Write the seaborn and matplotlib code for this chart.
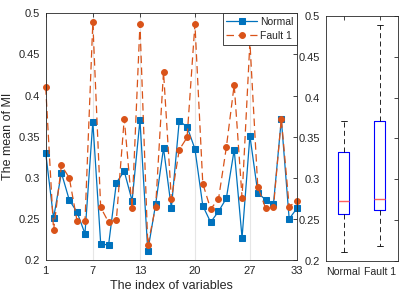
import numpy as np
import pandas as pd
import matplotlib
matplotlib.use("Agg")
import matplotlib.pyplot as plt
import seaborn as sns
from matplotlib.ticker import FuncFormatter

variableIndex = list(range(1, 34))
normalMI = [0.330, 0.251, 0.306, 0.273, 0.258, 0.232, 0.368, 0.220, 0.218, 0.294,
            0.308, 0.272, 0.370, 0.211, 0.268, 0.336, 0.263, 0.369, 0.362, 0.335,
            0.266, 0.246, 0.259, 0.275, 0.334, 0.227, 0.351, 0.282, 0.273, 0.268,
            0.371, 0.250, 0.263]
fault1MI = [0.410, 0.236, 0.315, 0.300, 0.247, 0.247, 0.489, 0.264, 0.246, 0.249,
            0.372, 0.263, 0.487, 0.218, 0.265, 0.429, 0.274, 0.334, 0.349, 0.487,
            0.293, 0.262, 0.274, 0.337, 0.413, 0.276, 0.465, 0.289, 0.263, 0.264,
            0.372, 0.265, 0.272]
seriesNames = ["Normal", "Fault 1"]
xTicks = [1, 7, 13, 20, 27, 33]
yTicks = [0.2, 0.25, 0.3, 0.35, 0.4, 0.45, 0.5]

blue = "#0072BD"
orange = "#D95319"
textColor = "#262626"
spineColor = "#262626"

sns.set_theme(style="white")
plt.rcParams["font.family"] = ["Liberation Sans", "DejaVu Sans"]
plt.rcParams["text.color"] = textColor
plt.rcParams["axes.labelcolor"] = textColor
plt.rcParams["xtick.color"] = textColor
plt.rcParams["ytick.color"] = textColor

fig = plt.figure(figsize=(4.07, 3.05), dpi=100, facecolor="white")
ax = fig.add_axes([0.1123, 0.1475, 0.6175, 0.809])
axBox = fig.add_axes([0.8002, 0.1443, 0.1769, 0.8033])

mgFmt = FuncFormatter(lambda v, p: f"{v:g}")

# line chart
lineData = pd.DataFrame({"idx": variableIndex, "Normal": normalMI, "Fault 1": fault1MI})
sns.lineplot(data=lineData, x="idx", y="Normal", ax=ax, color=blue, marker="s",
             markersize=4, markeredgecolor=blue, linewidth=0.9, label="Normal",
             clip_on=False, zorder=3)
sns.lineplot(data=lineData, x="idx", y="Fault 1", ax=ax, color=orange, marker="o",
             markersize=4.2, markeredgecolor=orange, linewidth=0.9, linestyle=(0, (6, 3.5)),
             label="Fault 1", clip_on=False, zorder=4)

ax.set_xlim(1, 33)
ax.set_ylim(0.2, 0.5)
ax.set_xticks(xTicks)
ax.set_yticks(yTicks)
ax.yaxis.set_major_formatter(mgFmt)
ax.grid(axis="x", color="#e6e6e6", linewidth=0.8)
ax.grid(axis="y", visible=False)
ax.set_axisbelow(True)
ax.set_xlabel("The index of variables", fontsize=9, labelpad=3)
ax.set_ylabel("The mean of MI", fontsize=9, labelpad=3)
ax.tick_params(direction="in", length=3, width=0.6, top=True, right=True,
               labelsize=8, pad=4, colors=textColor)
for s in ax.spines.values():
    s.set_edgecolor(spineColor)
    s.set_linewidth(0.6)
    s.set_zorder(5)
leg = ax.legend(loc="upper right", borderaxespad=0, fancybox=False, framealpha=1,
                edgecolor=spineColor, fontsize=7.5, handlelength=3.0,
                handletextpad=0.25, borderpad=0.35, labelspacing=0.4)
leg.get_frame().set_linewidth(0.6)
leg.set_zorder(10)

# box plot
boxData = pd.DataFrame({
    "group": [seriesNames[0]] * len(normalMI) + [seriesNames[1]] * len(fault1MI),
    "value": normalMI + fault1MI,
})
sns.boxplot(data=boxData, x="group", y="value", ax=axBox, order=seriesNames,
            width=0.32, fill=False, color="blue", linewidth=0.8, showfliers=False,
            boxprops=dict(color="#0000ff", linewidth=0.8),
            medianprops=dict(color="#ff6060", linewidth=1.0),
            whiskerprops=dict(color="black", linestyle=(0, (6, 4)), linewidth=0.6),
            capprops=dict(color="black", linewidth=0.6))
axBox.set_xlim(-0.5, 1.5)
axBox.set_ylim(0.2, 0.5)
axBox.set_yticks(yTicks)
axBox.yaxis.set_major_formatter(mgFmt)
axBox.set_xlabel("")
axBox.set_ylabel("")
axBox.tick_params(direction="in", length=3, width=0.6, top=True, right=True,
                  labelsize=8, pad=4, colors=textColor)
axBox.tick_params(axis="x", labelsize=7.6)
for s in axBox.spines.values():
    s.set_edgecolor(spineColor)
    s.set_linewidth(0.6)

fig.savefig("out.png", dpi=100, facecolor="white")
